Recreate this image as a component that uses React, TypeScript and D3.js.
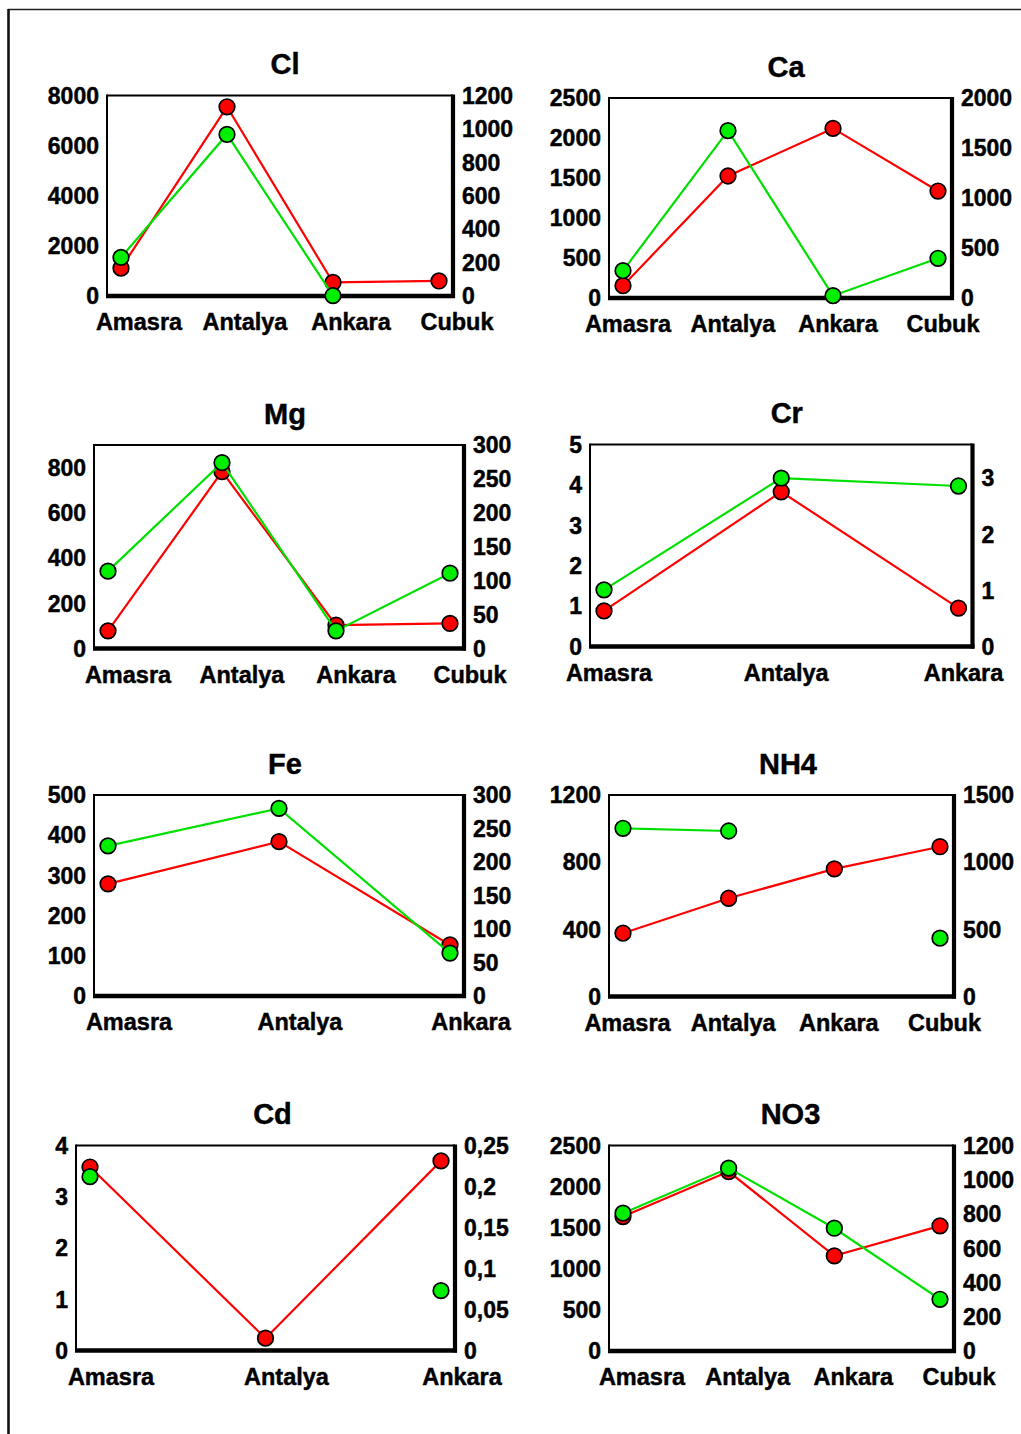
import React from "react";
import * as d3 from "d3";

// Sampling sites
const sites4 = ["Amasra", "Antalya", "Ankara", "Cubuk"];
const sites3 = ["Amasra", "Antalya", "Ankara"];

// Red series (left axis) and green series (right axis); null = not measured
const clRed = [1110, 7550, 540, 600];
const clGreen = [231, 967, 2, null];
const caRed = [154, 1525, 2120, 1337];
const caGreen = [273, 1673, 23, 397];
const mgRed = [78, 782, 103, 111];
const mgGreen = [114, 274, 26, 111];
const crRed = [0.88, 3.83, 0.95];
const crGreen = [1.01, 3.0, 2.86];
const feRed = [279, 384, 127];
const feGreen = [224, 280, 64];
const nh4Red = [377, 585, 760, 892];
const nh4Green = [1252, 1232, null, 434];
const cdRed = [3.58, 0.24, 3.7];
const cdGreen = [0.212, null, 0.073];
const no3Red = [1635, 2183, 1157, 1522];
const no3Green = [805, 1068, 717, 302];

// Axis tick values
const clLeftTicks = [0, 2000, 4000, 6000, 8000];
const clRightTicks = [0, 200, 400, 600, 800, 1000, 1200];
const caLeftTicks = [0, 500, 1000, 1500, 2000, 2500];
const caRightTicks = [0, 500, 1000, 1500, 2000];
const mgLeftTicks = [0, 200, 400, 600, 800];
const mgRightTicks = [0, 50, 100, 150, 200, 250, 300];
const crLeftTicks = [0, 1, 2, 3, 4, 5];
const crRightTicks = [0, 1, 2, 3];
const feLeftTicks = [0, 100, 200, 300, 400, 500];
const feRightTicks = [0, 50, 100, 150, 200, 250, 300];
const nh4LeftTicks = [0, 400, 800, 1200];
const nh4RightTicks = [0, 500, 1000, 1500];
const cdLeftTicks = [0, 1, 2, 3, 4];
const cdRightTicks = [0, 0.05, 0.1, 0.15, 0.2, 0.25];
const no3LeftTicks = [0, 500, 1000, 1500, 2000, 2500];
const no3RightTicks = [0, 200, 400, 600, 800, 1000, 1200];

const fmt = d3.formatLocale({
  decimal: ",",
  thousands: "",
  grouping: [3],
  currency: ["", ""],
}).format("~g");

type Panel = {
  title: string;
  sites: string[];
  red: (number | null)[];
  green: (number | null)[];
  leftTicks: number[];
  rightTicks: number[];
  leftMax: number;
  rightMax: number;
  box: [number, number, number, number]; // left, right, top, bottom
  labelDx: number;
  titleDx: number;
};

const panels: Panel[] = [
  { title: "Cl", sites: sites4, red: clRed, green: clGreen, leftTicks: clLeftTicks, rightTicks: clRightTicks, leftMax: 8000, rightMax: 1200, box: [107, 453, 95.5, 296], labelDx: 18, titleDx: 5 },
  { title: "Ca", sites: sites4, red: caRed, green: caGreen, leftTicks: caLeftTicks, rightTicks: caRightTicks, leftMax: 2500, rightMax: 2000, box: [609, 952, 98, 298], labelDx: 5, titleDx: 5.5 },
  { title: "Mg", sites: sites4, red: mgRed, green: mgGreen, leftTicks: mgLeftTicks, rightTicks: mgRightTicks, leftMax: 900, rightMax: 300, box: [94, 464, 445, 648.5], labelDx: 20, titleDx: 6 },
  { title: "Cr", sites: sites3, red: crRed, green: crGreen, leftTicks: crLeftTicks, rightTicks: crRightTicks, leftMax: 5, rightMax: 3.6, box: [590, 972.5, 444.5, 646.5], labelDx: 5, titleDx: 5.5 },
  { title: "Fe", sites: sites3, red: feRed, green: feGreen, leftTicks: feLeftTicks, rightTicks: feRightTicks, leftMax: 500, rightMax: 300, box: [94, 464, 795, 996], labelDx: 21, titleDx: 6 },
  { title: "NH4", sites: sites4, red: nh4Red, green: nh4Green, leftTicks: nh4LeftTicks, rightTicks: nh4RightTicks, leftMax: 1200, rightMax: 1500, box: [609, 954, 795, 996.5], labelDx: 4.5, titleDx: 6.5 },
  { title: "Cd", sites: sites3, red: cdRed, green: cdGreen, leftTicks: cdLeftTicks, rightTicks: cdRightTicks, leftMax: 4, rightMax: 0.25, box: [76, 455, 1145.5, 1350.5], labelDx: 21, titleDx: 7 },
  { title: "NO3", sites: sites4, red: no3Red, green: no3Green, leftTicks: no3LeftTicks, rightTicks: no3RightTicks, leftMax: 2500, rightMax: 1200, box: [609, 954, 1145.5, 1351], labelDx: 19, titleDx: 9 },
];

const FONT = "'Liberation Sans', Arial, Helvetica, sans-serif";
const RED = "#ff0000";
const GREEN_LINE = "#00e000";
const GREEN_FILL = "#00ee00";

function Series({
  values,
  x,
  y,
  sites,
  line,
  fill,
}: {
  values: (number | null)[];
  x: d3.ScalePoint<string>;
  y: d3.ScaleLinear<number, number>;
  sites: string[];
  line: string;
  fill: string;
}) {
  const pts = values.map((v, i) => ({ site: sites[i], v }));
  const gen = d3
    .line<{ site: string; v: number | null }>()
    .defined((d) => d.v != null)
    .x((d) => x(d.site) as number)
    .y((d) => y(d.v as number));
  return (
    <g>
      <path d={gen(pts) || ""} fill="none" stroke={line} strokeWidth={2.2} />
      {pts
        .filter((d) => d.v != null)
        .map((d) => (
          <circle
            key={d.site}
            cx={x(d.site)}
            cy={y(d.v as number)}
            r={7.8}
            fill={fill}
            stroke="#000"
            strokeWidth={1.7}
          />
        ))}
    </g>
  );
}

function ChartPanel({ p }: { p: Panel }) {
  const [l, r, t, b] = p.box;
  const x = d3.scalePoint<string>().domain(p.sites).range([l + 14, r - 14]).padding(0);
  const yL = d3.scaleLinear().domain([0, p.leftMax]).range([b, t]);
  const yR = d3.scaleLinear().domain([0, p.rightMax]).range([b, t]);
  return (
    <g fontFamily={FONT} fontWeight="bold" fill="#000">
      <g stroke="#000" strokeWidth={0.45}>
        <text x={(l + r) / 2 + p.titleDx} y={t - 21.5} fontSize={29} textAnchor="middle">
          {p.title}
        </text>
        {p.leftTicks.map((v) => (
          <text key={"l" + v} x={l - 8} y={yL(v)} dy="0.36em" fontSize={23} textAnchor="end">
            {fmt(v)}
          </text>
        ))}
        {p.rightTicks.map((v) => (
          <text key={"r" + v} x={r + 9} y={yR(v)} dy="0.36em" fontSize={23} textAnchor="start">
            {fmt(v)}
          </text>
        ))}
        {p.sites.map((s) => (
          <text
            key={s}
            x={(x(s) as number) + p.labelDx}
            y={b + 34}
            fontSize={23.5}
            textAnchor="middle"
          >
            {s}
          </text>
        ))}
      </g>
      {/* frame: thin top/left, heavy bottom/right */}
      <line x1={l} x2={r} y1={t} y2={t} stroke="#000" strokeWidth={2} />
      <line x1={l} x2={l} y1={t - 1} y2={b} stroke="#000" strokeWidth={2} />
      <line x1={l - 1} x2={r + 2} y1={b} y2={b} stroke="#000" strokeWidth={4.4} />
      <line x1={r} x2={r} y1={t - 1} y2={b + 2} stroke="#000" strokeWidth={4.2} />
      <Series values={p.red} x={x} y={yL} sites={p.sites} line={RED} fill={RED} />
      <Series values={p.green} x={x} y={yR} sites={p.sites} line={GREEN_LINE} fill={GREEN_FILL} />
    </g>
  );
}

export default function App() {
  return (
    <svg
      width={1021}
      height={1434}
      style={{ position: "absolute", left: 0, top: 0, background: "#fff" }}
    >
      <rect width={1021} height={1434} fill="#fff" />
      <line x1={8} x2={1021} y1={9.5} y2={9.5} stroke="#222" strokeWidth={1.6} />
      <line x1={8.5} x2={8.5} y1={9} y2={1434} stroke="#111" strokeWidth={2.6} />
      {panels.map((p) => (
        <ChartPanel key={p.title} p={p} />
      ))}
    </svg>
  );
}
